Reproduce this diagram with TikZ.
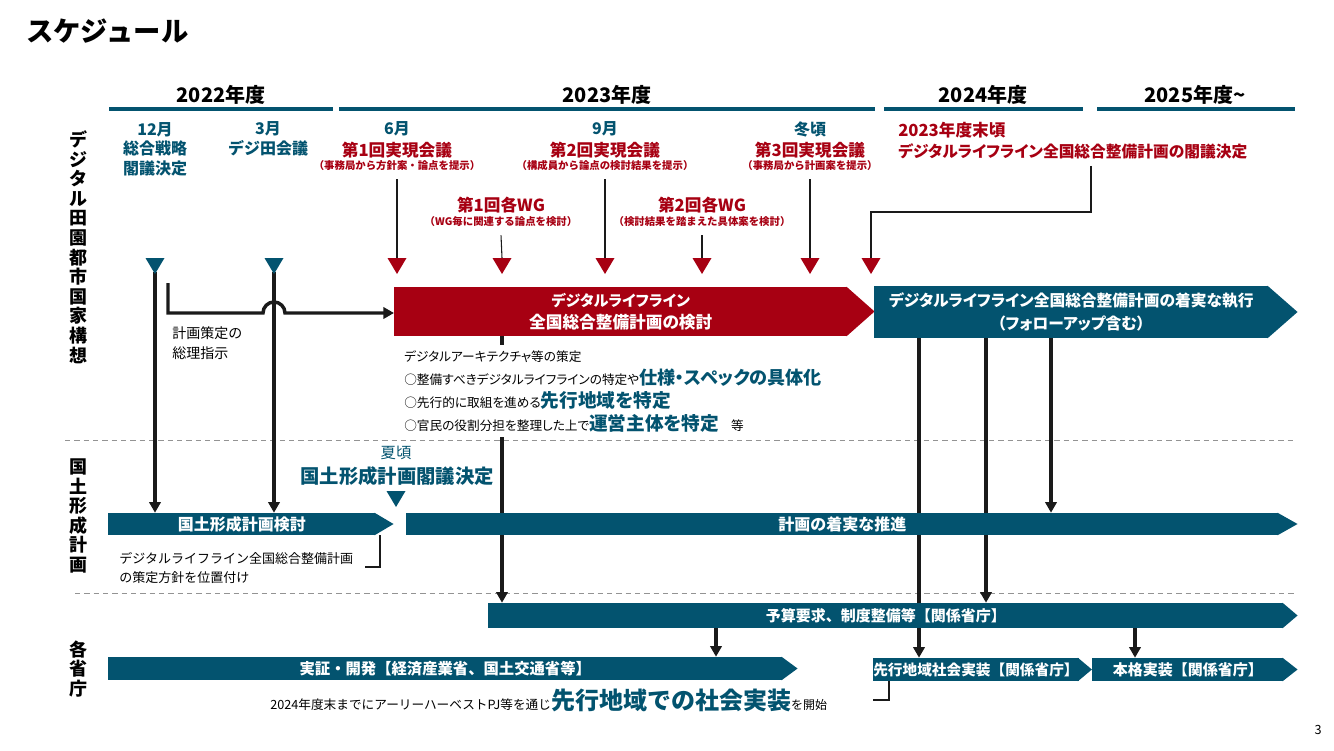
\documentclass[tikz,border=0pt]{standalone}
\usepackage{fontspec}
\setmainfont{Noto Sans CJK JP}
\newfontfamily\jpp{Noto Sans CJK JP}[RawFeature=+palt]
\usetikzlibrary{calc,arrows.meta,backgrounds}
\definecolor{tl}{RGB}{3,83,111}
\definecolor{rd}{RGB}{167,0,18}
\definecolor{ink}{RGB}{26,26,26}
\newcommand\fsz[2]{\fontsize{#1}{#2}\selectfont}
\newcommand\bartip[3]{\fill[#3] ($(#1.north east)+(-1,0)$) -- ($(#1.east)+(#2,0)$) -- ($(#1.south east)+(-1,0)$) -- cycle;}
\tikzset{
  pics/tridown/.style={code={\fill[#1] (-9.5,0) -- (9.5,0) -- (0,16) -- cycle;}},
}
\begin{document}
\begin{tikzpicture}[x=0.75pt,y=-0.75pt,
  every node/.style={inner sep=0pt},
  bar/.style={anchor=west, text=white, font=\bfseries\fsz{11.25}{13}, align=center},
  thickarr/.style={draw=ink, line width=2.6pt, -{Triangle[width=8.5pt,length=8pt]}},
  thinln/.style={draw=ink, line width=0.8pt},
  sepln/.style={draw=gray!85, dash pattern=on 4pt off 3pt, line width=0.7pt},
  yrln/.style={draw=tl, line width=2.3pt},
  yrlbl/.style={font=\bfseries\fsz{15}{17}},
  mon/.style={font=\bfseries\fsz{12}{14.6}, text=tl, align=center},
  meet/.style={font=\bfseries\fsz{12.5}{14.6}, text=rd, align=center},
  paren/.style={font=\bfseries\fsz{7.8}{9}, text=rd},
  side/.style={font=\bfseries\fsz{13.5}{14.7}, align=center},
  note/.style={font=\fsz{10.5}{14.5}, align=left, anchor=west},
  small/.style={anchor=base west, font=\jpp\fsz{9.5}{11}},
]
\useasboundingbox (0,0) rectangle (1334,750);

% title
\node[anchor=west, font=\bfseries\fsz{20.5}{24}] (title) at (26,31) {スケジュール};

% year headers
\node[yrlbl] (y22) at (221,95) {2022年度};
\node[yrlbl] (y23) at (607,95) {2023年度};
\node[yrlbl] (y24) at (983,95) {2024年度};
\node[yrlbl] (y25) at (1195,95) {2025年度\textasciitilde};
\draw[yrln] (109,109) -- (333,109);
\draw[yrln] (339,109) -- (875,109);
\draw[yrln] (884,109) -- (1083,109);
\draw[yrln] (1097,109) -- (1295,109);

% side labels
\node[side] (s1) at (78,247) {デ\\ジ\\タ\\ル\\田\\園\\都\\市\\国\\家\\構\\想};
\node[side] (s2) at (78,516) {国\\土\\形\\成\\計\\画};
\node[side] (s3) at (78,669) {各\\省\\庁};

% milestone labels
\node[mon] (m12) at (155,149) {12月\\総合戦略\\閣議決定};
\node[mon] (m3) at (268,139) {3月\\デジ田会議};
\node[mon] (m6) at (397,129) {6月};
\node[meet] (n6) at (397,150) {第1回実現会議};
\node[paren] (p6) at (397,166) {（事務局から方針案・論点を提示）};
\node[mon] (m9) at (605,129) {9月};
\node[meet] (n9) at (605,150) {第2回実現会議};
\node[paren] (p9) at (605,166) {（構成員から論点の検討結果を提示）};
\node[mon] (mw) at (810,129) {冬頃};
\node[meet] (nw) at (810,150) {第3回実現会議};
\node[paren] (pw) at (810,166) {（事務局から計画案を提示）};
\node[meet] (w1) at (501,205) {第1回各WG};
\node[paren] (q1) at (501,222) {（WG毎に関連する論点を検討）};
\node[meet] (w2) at (702,205) {第2回各WG};
\node[paren] (q2) at (702,222) {（検討結果を踏まえた具体案を検討）};
\node[meet, anchor=west] (e1) at (898,130) {2023年度末頃};
\node[meet, anchor=west, font=\jpp\bfseries\fsz{11.8}{14.6}] (e2) at (898,151) {デジタルライフライン全国総合整備計画の閣議決定};

% triangles
\coordinate (t12) at (155,258);
\coordinate (t3) at (274,258);
\coordinate (r6) at (397,258);
\coordinate (rw1) at (502,258);
\coordinate (r9) at (605,258);
\coordinate (rw2) at (702,258);
\coordinate (rw) at (810,258);
\coordinate (r24) at (871,258);
\coordinate (tk) at (396,491);
\pic at (t12) {tridown=tl};
\pic at (t3) {tridown=tl};
\foreach \c in {r6,rw1,r9,rw2,rw,r24} {\pic at (\c) {tridown=rd};}
\pic at (tk) {tridown=tl};

% main arrows (bars)
\node[bar, fill=rd, minimum width={453*0.75pt}, minimum height={49*0.75pt}, font=\jpp\bfseries\fsz{12.5}{16.5}] (rb) at (394,311.5) {{\fsz{11.3}{16.5}デジタルライフライン}\\全国総合整備計画の検討};
\bartip{rb}{27}{rd}
\node[bar, fill=tl, minimum width={394*0.75pt}, minimum height={52*0.75pt}, font=\jpp\bfseries\fsz{11.8}{17}] (tb) at (874,312) {デジタルライフライン全国総合整備計画の着実な執行\\（フォローアップ含む）};
\bartip{tb}{29}{tl}

\node[bar, fill=tl, minimum width={267*0.75pt}, minimum height={22*0.75pt}, font=\bfseries\fsz{12}{13}] (kb) at (108,524) {国土形成計画検討};
\bartip{kb}{18}{tl}
\node[bar, fill=tl, minimum width={872*0.75pt}, minimum height={22*0.75pt}, font=\bfseries\fsz{12}{13}] (ks) at (406,524) {計画の着実な推進};
\bartip{ks}{19}{tl}
\node[bar, fill=tl, minimum width={795*0.75pt}, minimum height={25*0.75pt}] (yb) at (488,615.5) {予算要求、制度整備等【関係省庁】};
\bartip{yb}{14}{tl}
\node[bar, fill=tl, minimum width={674*0.75pt}, minimum height={23*0.75pt}, font=\bfseries\fsz{11.5}{13}] (jb) at (108,668.5) {実証・開発【経済産業省、国土交通省等】};
\bartip{jb}{15}{tl}
\node[bar, fill=tl, minimum width={200*0.75pt}, minimum height={23*0.75pt}, font=\bfseries\fsz{11}{13}] (sb) at (873,669.5) {先行地域社会実装【関係省庁】};
\bartip{sb}{13}{tl}
\node[bar, fill=tl, minimum width={191*0.75pt}, minimum height={23*0.75pt}] (hb) at (1092,669.5) {本格実装【関係省庁】};
\bartip{hb}{14}{tl}

% notes
\node[note] (sori) at (172,343) {計画策定の\\総理指示};
\coordinate (soristart) at (168,283);
\fill[white] (400,345) rectangle (834,437);
\node[small] (a1) at (404,361) {デジタルアーキテクチャ等の策定};
\node[small] (a2) at (404,384) {○整備すべきデジタルライフラインの特定や{\bfseries\color{tl}\fsz{13.6}{16}仕様・スペックの具体化}};
\node[small] (a3) at (404,407) {○先行的に取組を進める{\bfseries\color{tl}\fsz{14}{16}先行地域を特定}};
\node[small] (a4) at (404,430) {○官民の役割分担を整理した上で{\bfseries\color{tl}\fsz{14}{16}運営主体を特定}\hspace{9pt}等};

\node[font=\fsz{11.5}{13}, text=tl] (summer) at (396,453) {夏頃};
\node[font=\bfseries\fsz{14.5}{17}, text=tl] (kakugi) at (397,476) {国土形成計画閣議決定};
\node[note, font=\fsz{9.75}{14}] (kbnote) at (119,568) {デジタルライフライン全国総合整備計画\\の策定方針を位置付け};

\node[anchor=base west, font=\fsz{9.5}{11}] (bot) at (270,709) {2024年度末までにアーリーハーベストPJ等を通じ{\bfseries\color{tl}\fsz{18}{20}先行地域での社会実装}{\fsz{9}{11}を開始}};

\node[font=\fsz{9.5}{11}] (pg) at (1318,730) {3};

% connectors on background
\begin{pgfonlayer}{background}
\draw[sepln] (65,440) -- (1295,440);
\draw[sepln] (75,593) -- (1295,593);
\draw[thickarr] ($(t12)+(0,14)$) -- (t12 |- kb.north);
\draw[thickarr] ($(t3)+(0,14)$) -- (t3 |- kb.north);
\draw[thickarr] (soristart) -- (168,313) -- (263,313) arc(180:360:11) -- (rb.west |- 0,313);
\draw[thinln] ($(p6.south)+(0,8)$) -- (r6);
\draw[thinln] ($(p9.south)+(0,8)$) -- (r9);
\draw[thinln] ($(pw.south)+(0,8)$) -- (rw);
\draw[thinln] ($(q1.south)+(0,8)$) -- (rw1);
\draw[thinln] ($(q2.south)+(0,8)$) -- (rw2);
\draw[thinln] ($(e2.south west)+(193,7)$) |- ($(r24)+(0,-46)$) -- (r24);
\draw[thickarr] (rb.south -| 502,0) -- (yb.north -| 502,0);
\draw[thickarr] (tb.south -| 919,0) -- (sb.north -| 919,0);
\draw[thickarr] (tb.south -| 986,0) -- (yb.north -| 986,0);
\draw[thickarr] (tb.south -| 1051,0) -- (ks.north -| 1051,0);
\draw[thickarr] (yb.south -| 716,0) -- (jb.north -| 716,0);
\draw[thickarr] (yb.south -| 1135,0) -- (hb.north -| 1135,0);
\draw[thinln] (kb.south -| 380,0) |- (365,567);
\draw[thinln] (sb.south -| 889,0) |- (873,700);
\end{pgfonlayer}
\end{tikzpicture}
\end{document}
